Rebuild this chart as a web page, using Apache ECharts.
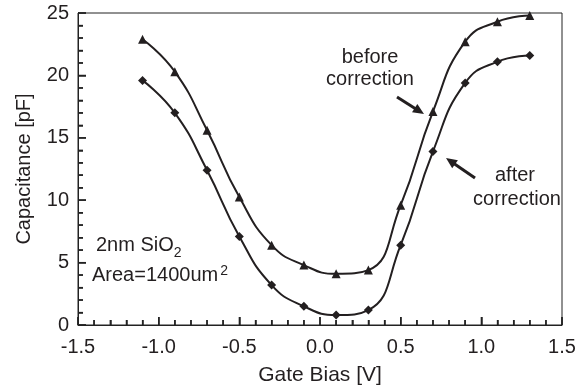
<!DOCTYPE html>
<html>
<head>
<meta charset="utf-8">
<script src="https://cdn.jsdelivr.net/npm/echarts@6/dist/echarts.min.js"></script>
<style>
  html, body { margin: 0; padding: 0; background: #fff; }
  #chart { width: 583px; height: 391px; }
</style>
</head>
<body>
<div id="chart"></div>
<script>
// gate bias points (V)
const gateBias = [-1.1, -0.9, -0.7, -0.5, -0.3, -0.1, 0.1, 0.3, 0.5, 0.7, 0.9, 1.1, 1.3];
// capacitance (pF)
const beforeCorrection = [22.9, 20.3, 15.6, 10.25, 6.4, 4.8, 4.1, 4.4, 9.6, 17.1, 22.7, 24.3, 24.8];
const afterCorrection = [19.6, 17.0, 12.4, 7.1, 3.2, 1.5, 0.8, 1.2, 6.4, 13.9, 19.4, 21.1, 21.6];

// axis ranges / tick steps
const xRange = [-1.5, 1.5], xMajor = 0.5, xMinor = 0.1;
const yRange = [0, 25], yMajor = 5, yMinor = 1;

const FONT = 'Liberation Sans, Arial, Helvetica, sans-serif';
const INK = '#231f20';
const FS = 20;

function pairs(xs, ys) {
    return xs.map((x, i) => [x, ys[i]]);
}

// tick marks as [value, isMajor]
function tickList(range, minor, major) {
    const out = [];
    const n = Math.round((range[1] - range[0]) / minor);
    for (let i = 0; i <= n; i++) {
        const v = +(range[0] + i * minor).toFixed(4);
        out.push([v, Math.abs(v / major - Math.round(v / major)) < 1e-6 ? 1 : 0]);
    }
    return out;
}

// arrow = shaft + filled head, pixel coords
function arrow(x1, y1, x2, y2) {
    const dx = x2 - x1, dy = y2 - y1;
    const len = Math.sqrt(dx * dx + dy * dy);
    const ux = dx / len, uy = dy / len;
    const hl = 11, hw = 5;
    const bx = x2 - ux * hl, by = y2 - uy * hl;
    return [
        {
            type: 'line',
            shape: { x1: x1, y1: y1, x2: bx + ux, y2: by + uy },
            style: { stroke: INK, lineWidth: 3 }
        },
        {
            type: 'polygon',
            shape: { points: [[x2, y2], [bx - uy * hw, by + ux * hw], [bx + uy * hw, by - ux * hw]] },
            style: { fill: INK }
        }
    ];
}

function label(text, x, y, align) {
    return {
        type: 'text',
        x: x,
        y: y,
        style: {
            text: text,
            font: FS + 'px ' + FONT,
            fill: INK,
            align: align || 'center',
            verticalAlign: 'middle'
        }
    };
}

const axisColor = '#222';

const chart = echarts.init(document.getElementById('chart'));

const option = {
    animation: false,
    grid: {
        left: 78,
        right: 21,
        top: 13,
        bottom: 62,
        show: true,
        borderColor: axisColor
    },
    xAxis: {
        type: 'value',
        min: xRange[0],
        max: xRange[1],
        interval: xMajor,
        name: 'Gate Bias [V]',
        nameLocation: 'middle',
        nameGap: 40,
        nameTextStyle: { fontFamily: FONT, fontSize: FS + 1, color: INK },
        axisLine: { show: true, onZero: false, lineStyle: { color: axisColor } },
        axisTick: { show: true, inside: true, length: 8, lineStyle: { color: axisColor, width: 1.5 } },
        minorTick: { show: true, splitNumber: 5, length: 5, lineStyle: { color: axisColor, width: 1.5 } },
        splitLine: { show: false },
        axisLabel: {
            fontFamily: FONT,
            fontSize: FS,
            color: INK,
            margin: 12,
            formatter: v => v.toFixed(1)
        }
    },
    yAxis: {
        type: 'value',
        min: yRange[0],
        max: yRange[1],
        interval: yMajor,
        name: 'Capacitance [pF]',
        nameLocation: 'middle',
        nameGap: 44,
        nameTextStyle: { fontFamily: FONT, fontSize: FS, color: INK },
        axisLine: { show: true, onZero: false, lineStyle: { color: axisColor } },
        axisTick: { show: true, inside: true, length: 8, lineStyle: { color: axisColor, width: 1.5 } },
        minorTick: { show: true, splitNumber: 5, length: 5, lineStyle: { color: axisColor, width: 1.5 } },
        splitLine: { show: false },
        axisLabel: { fontFamily: FONT, fontSize: FS, color: INK, margin: 9 }
    },
    series: [
        {
            name: 'before correction',
            type: 'line',
            smooth: 0.5,
            symbol: 'triangle',
            symbolSize: 9,
            data: pairs(gateBias, beforeCorrection),
            itemStyle: { color: INK },
            lineStyle: { color: INK, width: 2 }
        },
        {
            name: 'after correction',
            type: 'line',
            smooth: 0.5,
            symbol: 'diamond',
            symbolSize: 9,
            data: pairs(gateBias, afterCorrection),
            itemStyle: { color: INK },
            lineStyle: { color: INK, width: 2 }
        },
        {
            // x-axis tick marks, drawn inward
            type: 'custom',
            silent: true,
            clip: false,
            data: tickList(xRange, xMinor, xMajor).map(t => [t[0], yRange[0], t[1]]),
            renderItem: (params, api) => {
                const p = api.coord([api.value(0), api.value(1)]);
                const len = api.value(2) ? 8 : 5;
                return {
                    type: 'line',
                    shape: { x1: p[0], y1: p[1], x2: p[0], y2: p[1] - len },
                    style: { stroke: axisColor, lineWidth: 1.3 }
                };
            }
        },
        {
            // y-axis tick marks, drawn inward
            type: 'custom',
            silent: true,
            clip: false,
            data: tickList(yRange, yMinor, yMajor).map(t => [xRange[0], t[0], t[1]]),
            renderItem: (params, api) => {
                const p = api.coord([api.value(0), api.value(1)]);
                const len = api.value(2) ? 8 : 5;
                return {
                    type: 'line',
                    shape: { x1: p[0], y1: p[1], x2: p[0] + len, y2: p[1] },
                    style: { stroke: axisColor, lineWidth: 1.3 }
                };
            }
        }
    ],
    graphic: [
        label('before', 370, 57),
        label('correction', 370, 79),
        label('after', 515, 175),
        label('correction', 517, 199),
        ...arrow(397, 97, 424, 114),
        ...arrow(475, 178, 446, 158),
        {
            type: 'text',
            x: 96,
            y: 245,
            style: {
                text: '{a|2nm SiO}{s|2}',
                fill: INK,
                verticalAlign: 'middle',
                rich: {
                    a: { font: FS + 'px ' + FONT, fill: INK, lineHeight: 22, verticalAlign: 'middle' },
                    s: { font: '14px ' + FONT, fill: INK, lineHeight: 14, verticalAlign: 'bottom', padding: [0, 0, -4, 0] }
                }
            }
        },
        {
            type: 'text',
            x: 92,
            y: 275,
            style: {
                text: '{a|Area=1400um}{s|2}',
                fill: INK,
                verticalAlign: 'middle',
                rich: {
                    a: { font: FS + 'px ' + FONT, fill: INK, lineHeight: 22, verticalAlign: 'middle' },
                    s: { font: '14px ' + FONT, fill: INK, lineHeight: 14, verticalAlign: 'top', padding: [0, 0, 0, 2] }
                }
            }
        }
    ]
};

chart.setOption(option);
</script>
</body>
</html>
